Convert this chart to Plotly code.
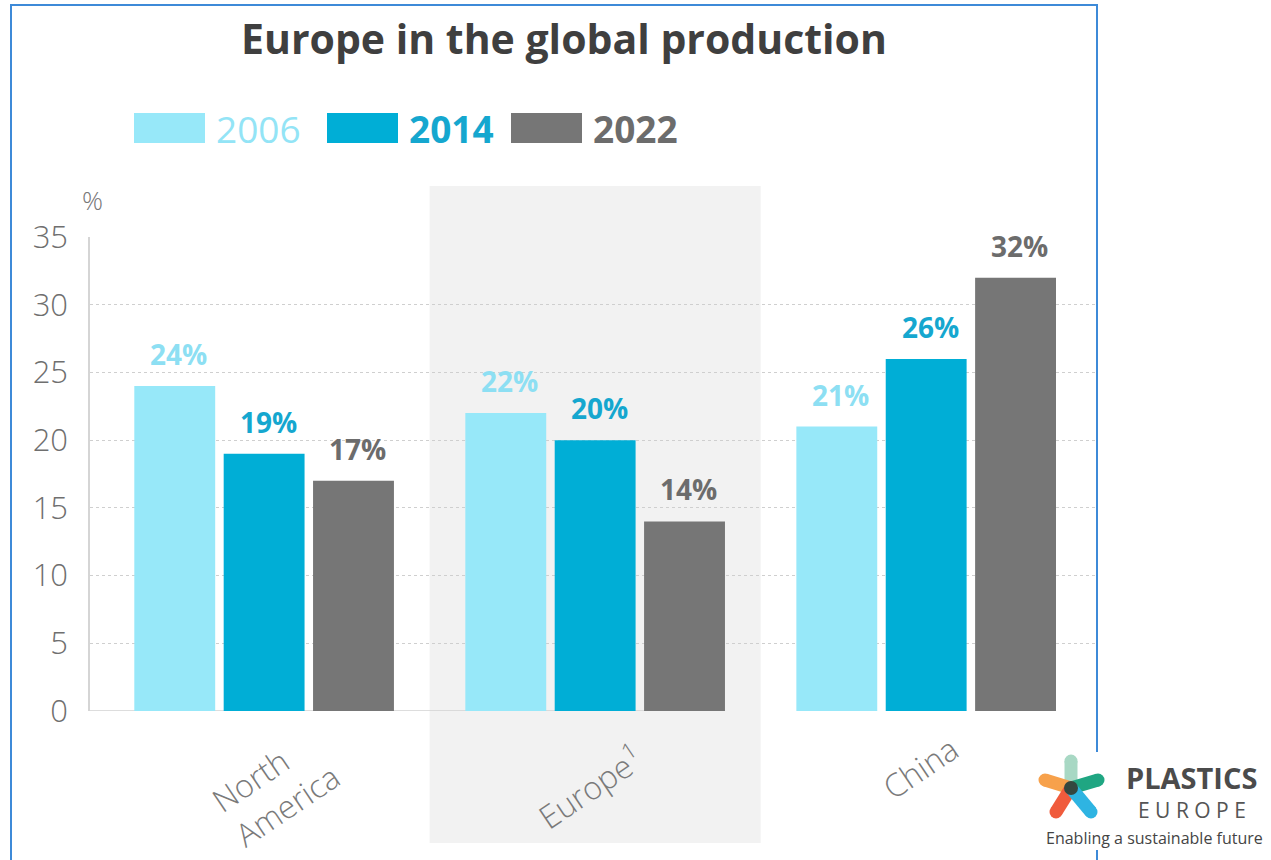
import plotly.graph_objects as go

# --- data -------------------------------------------------------------
regions = ["North America", "Europe¹", "China"]
region_labels = ["North<br>America", "Europe<sup>1</sup>", "China"]
years = ["2006", "2014", "2022"]
share_2006 = [24, 22, 21]
share_2014 = [19, 20, 26]
share_2022 = [17, 14, 32]
y_ticks = [0, 5, 10, 15, 20, 25, 30, 35]

series = [share_2006, share_2014, share_2022]

# --- styling -----------------------------------------------------------
bar_colors = ["#97E8F9", "#00AED6", "#767676"]
label_colors = ["#8DDFF3", "#15A7CF", "#6C6C6C"]
legend_colors = ["#93E4F6", "#15A7CF", "#6C6C6C"]
legend_weights = [400, 700, 700]
FONT = "Open Sans"

W, H = 1271, 860
ML, MR, MT, MB = 90, 176, 237, 149
PW, PH = W - ML - MR, H - MT - MB


def px(x):
    """pixel column -> paper x"""
    return (x - ML) / PW


def py(y):
    """pixel row -> paper y"""
    return (H - MB - y) / PH


def note(x, y, text, size, color, weight=400, **kw):
    d = dict(x=x, y=y, xref="paper", yref="paper", text=text, showarrow=False,
             xanchor="center", yanchor="middle",
             font=dict(family=FONT, size=size, color=color, weight=weight))
    d.update(kw)
    return d


BARGAP = 0.19
GROUPGAP = 0.095
slot = (1 - BARGAP) / len(years)
XRANGE = [-0.526, 2.51]

fig = go.Figure()
for name, vals, col in zip(years, series, bar_colors):
    fig.add_trace(go.Bar(
        x=regions, y=vals, name=name,
        marker=dict(color=col, line=dict(width=0)),
        showlegend=False, hoverinfo="x+y+name",
    ))

shapes = []
annotations = []

# highlighted Europe column
shapes.append(dict(type="rect", xref="x", yref="paper",
                   x0=0.5, x1=1.5, y0=py(843), y1=py(186),
                   fillcolor="#F2F2F2", line=dict(width=0), layer="below"))

# baseline under North America and Europe
shapes.append(dict(type="line", xref="x", yref="y",
                   x0=XRANGE[0], x1=1 + slot + slot * (1 - GROUPGAP) / 2,
                   y0=0, y1=0, line=dict(color="#D2D2D2", width=1.5),
                   layer="between"))

# value labels above bars
for i, (vals, col) in enumerate(zip(series, label_colors)):
    for j, v in enumerate(vals):
        annotations.append(dict(
            x=j + (i - 1) * slot, y=v, xref="x", yref="y",
            text=f"{v}%", showarrow=False, xanchor="center", yanchor="middle",
            yshift=32, xshift=4,
            font=dict(family=FONT, size=28, color=col, weight=700),
        ))

# category labels (rotated)
cat_shift = [(11, 788), (-6, 786), (-6, 767)]
for j, (lab, (dx, cy)) in enumerate(zip(region_labels, cat_shift)):
    annotations.append(dict(
        x=j, y=py(cy), xref="x", yref="paper", text=lab, showarrow=False,
        xanchor="center", yanchor="middle",
        textangle=-34, xshift=dx, align="left",
        font=dict(family=FONT, size=32, color="#7A7A7A", weight=300),
    ))

# title
annotations.append(note(px(564), py(38), "Europe in the global production",
                        41, "#3F3F3F", 700))

# unit label
annotations.append(note(px(92), py(200), "%", 26, "#777777", 300))

# legend built from swatches and labels
swatch_left = [134, 327, 511]
for name, col, lc, wt, left in zip(years, bar_colors, legend_colors,
                                     legend_weights, swatch_left):
    shapes.append(dict(type="rect", xref="paper", yref="paper",
                       x0=px(left), x1=px(left + 71), y0=py(143), y1=py(113),
                       fillcolor=col, line=dict(width=0)))
    annotations.append(note(px(left + 80), py(128), name, 37, lc, wt,
                            xanchor="left"))

# frame around the chart
shapes.append(dict(type="rect", xref="paper", yref="paper",
                   x0=px(11), x1=px(1097), y0=py(890), y1=py(5),
                   line=dict(color="#3D8AD8", width=2), fillcolor="rgba(0,0,0,0)",
                   layer="above"))

# logo block
shapes.append(dict(type="rect", xref="paper", yref="paper",
                   x0=px(1034), x1=px(1271), y0=py(850), y1=py(752),
                   fillcolor="white", line=dict(width=0), layer="above"))

cx, cy = px(1071), py(788)
arms = [  # (dx, dy) pixel offsets of the rounded arm ends, colour
    ((0, -27), "#A8D8C4"),
    ((27, -8), "#1FA682"),
    ((-26, -8), "#F7A14B"),
    ((-15, 24), "#F05B3C"),
    ((20, 24), "#2EB4E2"),
]
R = 6.5
for (dx, dy), col in arms:
    shapes.append(dict(type="line", xref="paper", yref="paper",
                       xsizemode="pixel", ysizemode="pixel",
                       xanchor=cx, yanchor=cy, x0=0, x1=dx, y0=0, y1=-dy,
                       line=dict(color=col, width=13), layer="above"))
    shapes.append(dict(type="circle", xref="paper", yref="paper",
                       xsizemode="pixel", ysizemode="pixel",
                       xanchor=cx, yanchor=cy,
                       x0=dx - R, x1=dx + R, y0=-dy - R, y1=-dy + R,
                       fillcolor=col, line=dict(width=0), layer="above"))
shapes.append(dict(type="circle", xref="paper", yref="paper",
                   xsizemode="pixel", ysizemode="pixel",
                   xanchor=cx, yanchor=cy, x0=-7, x1=7, y0=-7, y1=7,
                   fillcolor="#34473F", line=dict(width=0), layer="above"))

annotations += [
    note(px(1191), py(777), "PLASTICS", 29, "#4B4B4B", 700),
    note(px(1192), py(810), "E U R O P E", 21, "#555555", 400),
    note(px(1154), py(838), "Enabling a sustainable future", 16, "#444444", 400),
]

fig.update_layout(
    width=W, height=H,
    margin=dict(l=ML, r=MR, t=MT, b=MB, pad=0),
    paper_bgcolor="white", plot_bgcolor="rgba(0,0,0,0)",
    barmode="group", bargap=BARGAP, bargroupgap=GROUPGAP,
    showlegend=False,
    shapes=shapes, annotations=annotations,
    xaxis=dict(range=XRANGE, showticklabels=False, showgrid=False,
               zeroline=False, showline=False, ticks=""),
    yaxis=dict(range=[0, 35], tickvals=y_ticks, showgrid=True,
               gridcolor="#CFCFCF", griddash="3px,3px", gridwidth=1.2,
               zeroline=True, zerolinecolor="rgba(0,0,0,0)",
               showline=True, linecolor="#D5D5D5", linewidth=1.5,
               ticks="", ticklabelstandoff=14,
               tickfont=dict(family=FONT, size=31, color="#6F6F6F", weight=300)),
)

fig.write_html("out.html")
